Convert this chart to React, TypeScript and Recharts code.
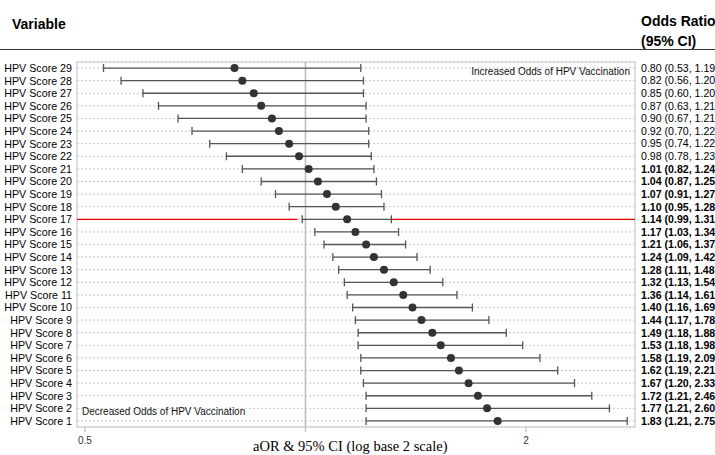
import React from 'react';
import {
  ScatterChart,
  Scatter,
  XAxis,
  YAxis,
  CartesianGrid,
  ErrorBar,
  ReferenceLine,
  ReferenceArea,
} from 'recharts';

// rows listed top to bottom as in the figure
const scores = [29, 28, 27, 26, 25, 24, 23, 22, 21, 20, 19, 18, 17, 16, 15, 14, 13, 12, 11, 10, 9, 8, 7, 6, 5, 4, 3, 2, 1];
const oddsRatios = [0.8, 0.82, 0.85, 0.87, 0.9, 0.92, 0.95, 0.98, 1.01, 1.04, 1.07, 1.1, 1.14, 1.17, 1.21, 1.24, 1.28, 1.32, 1.36, 1.4, 1.44, 1.49, 1.53, 1.58, 1.62, 1.67, 1.72, 1.77, 1.83];
const ciLow = [0.53, 0.56, 0.6, 0.63, 0.67, 0.7, 0.74, 0.78, 0.82, 0.87, 0.91, 0.95, 0.99, 1.03, 1.06, 1.09, 1.11, 1.13, 1.14, 1.16, 1.17, 1.18, 1.18, 1.19, 1.19, 1.2, 1.21, 1.21, 1.21];
const ciHigh = [1.19, 1.2, 1.2, 1.21, 1.21, 1.22, 1.22, 1.23, 1.24, 1.25, 1.27, 1.28, 1.31, 1.34, 1.37, 1.42, 1.48, 1.54, 1.61, 1.69, 1.78, 1.88, 1.98, 2.09, 2.21, 2.33, 2.46, 2.6, 2.75];
const highlightScore = 17;
const xTicks = [0.5, 1, 2];
const yTicks = scores.slice().reverse();

const X_MIN = 0.4876;
const X_MAX = 2.818;
const Y_MIN = 0.52;
const Y_MAX = 29.48;

const SANS = '"Liberation Sans", Arial, Helvetica, sans-serif';

const rows = scores.map((score, i) => ({
  score,
  or: oddsRatios[i],
  lo: ciLow[i],
  hi: ciHigh[i],
  err: [oddsRatios[i] - ciLow[i], ciHigh[i] - oddsRatios[i]],
}));

const byScore: Record<number, (typeof rows)[number]> = {};
rows.forEach(r => (byScore[r.score] = r));

const hl = byScore[highlightScore];

const XTick = ({ x, y, payload }: any) => (
  <g>
    <line x1={x} x2={x} y1={y - 8} y2={y - 3} stroke="#bbb" strokeWidth={1.2} />
    {payload.value !== 1 && (
      <text x={x} y={y + 9} textAnchor="middle" fontSize={10} fontFamily={SANS} fill="#333">
        {payload.value}
      </text>
    )}
  </g>
);

const NameTick = ({ x, y, payload }: any) => (
  <text x={x} y={y} dy="0.36em" textAnchor="end" fontSize={10.7} fontFamily={SANS} fill="#000">
    {`HPV Score ${payload.value}`}
  </text>
);

const OrTick = ({ x, y, payload }: any) => {
  const r = byScore[payload.value];
  if (!r) return null;
  const bold = r.or > 1;
  return (
    <text
      x={x}
      y={y}
      dy="0.36em"
      textAnchor="start"
      fontSize={10.6}
      fontFamily={SANS}
      fontWeight={bold ? 'bold' : 'normal'}
      fill="#000"
    >
      {`${r.or.toFixed(2)} (${r.lo.toFixed(2)}, ${r.hi.toFixed(2)})`}
    </text>
  );
};

const Dot = ({ cx, cy }: any) => <circle cx={cx} cy={cy} r={4} fill="#333" />;

export default function App() {
  return (
    <div style={{ position: 'relative', width: 715, height: 455, overflow: 'hidden', background: '#fff', fontFamily: SANS }}>
      <style>{'body{margin:0}'}</style>
      <div style={{ position: 'absolute', left: 12, top: 16, fontSize: 14, fontWeight: 'bold' }}>Variable</div>
      <div style={{ position: 'absolute', left: 641, top: 11, fontSize: 14, fontWeight: 'bold', lineHeight: '20px', whiteSpace: 'nowrap' }}>
        Odds Ratio
        <br />
        (95% CI)
      </div>
      <div style={{ position: 'absolute', left: 0, top: 49, width: 715, height: 0, borderTop: '1.5px solid #333' }} />

      <div style={{ position: 'absolute', left: 0, top: 0 }}>
        <ScatterChart width={715} height={455} margin={{ top: 62, right: 0, bottom: 0, left: 0 }}>
          <CartesianGrid vertical={false} stroke="#c4c4c4" strokeDasharray="2 2" />
          <XAxis
            type="number"
            dataKey="or"
            scale="log"
            domain={[X_MIN, X_MAX]}
            allowDataOverflow
            ticks={xTicks}
            tick={<XTick />}
            tickLine={false}
            axisLine={false}
            height={28}
          />
          <YAxis
            type="number"
            dataKey="score"
            domain={[Y_MIN, Y_MAX]}
            allowDataOverflow
            ticks={yTicks}
            interval={0}
            width={77}
            tickLine={false}
            axisLine={false}
            tickSize={5}
            tickMargin={0}
            tick={<NameTick />}
          />
          <YAxis
            yAxisId="r"
            orientation="right"
            type="number"
            domain={[Y_MIN, Y_MAX]}
            allowDataOverflow
            ticks={yTicks}
            interval={0}
            width={80}
            tickLine={false}
            axisLine={false}
            tickSize={6}
            tickMargin={0}
            tick={<OrTick />}
          />
          <ReferenceArea x1={X_MIN} x2={X_MAX} y1={Y_MIN} y2={Y_MAX} fill="none" stroke="#c8c8c8" strokeWidth={1.2} />
          <ReferenceLine x={1} stroke="#bbb" strokeWidth={1.5} />
          <ReferenceLine segment={[{ x: X_MIN, y: highlightScore }, { x: hl.lo * 0.985, y: highlightScore }]} stroke="#e60000" strokeWidth={1.2} />
          <ReferenceLine segment={[{ x: hl.hi, y: highlightScore }, { x: X_MAX, y: highlightScore }]} stroke="#e60000" strokeWidth={1.2} />
          <Scatter data={rows} dataKey="or" shape={<Dot />} isAnimationActive={false}>
            <ErrorBar dataKey="err" direction="x" width={4} stroke="#555" strokeWidth={1.3} isAnimationActive={false} />
          </Scatter>
        </ScatterChart>
      </div>

      <div style={{ position: 'absolute', right: 85, top: 66, fontSize: 10, color: '#111', whiteSpace: 'nowrap' }}>
        Increased Odds of HPV Vaccination
      </div>
      <div style={{ position: 'absolute', left: 82, top: 406, fontSize: 10, color: '#111', whiteSpace: 'nowrap' }}>
        Decreased Odds of HPV Vaccination
      </div>
      <div
        style={{
          position: 'absolute',
          left: 253,
          top: 438,
          fontFamily: '"Liberation Serif", "Times New Roman", serif',
          fontSize: 14.5,
          whiteSpace: 'nowrap',
        }}
      >
        aOR &amp; 95% CI (log base 2 scale)
      </div>
    </div>
  );
}
